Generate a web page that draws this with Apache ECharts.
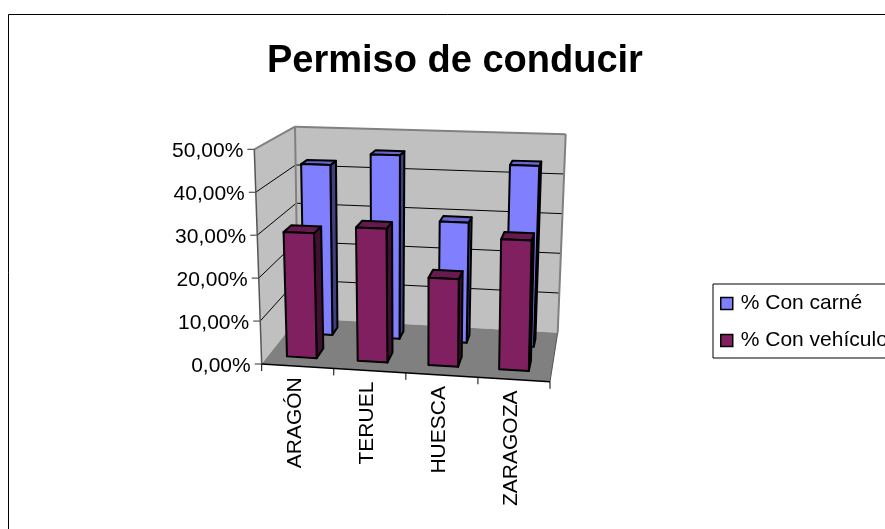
<!DOCTYPE html>
<html>
<head>
<meta charset="utf-8">
<title>Permiso de conducir</title>
<script src="https://cdn.jsdelivr.net/npm/echarts@6/dist/echarts.min.js"></script>
<style>
  html, body { margin: 0; padding: 0; background: #fff; }
  #chart { width: 885px; height: 529px; }
</style>
</head>
<body>
<div id="chart"></div>
<script>
const categories = ['ARAGÓN', 'TERUEL', 'HUESCA', 'ZARAGOZA']
const conCarne = [42.5, 45.5, 29.5, 44]
const conVehiculo = [29.5, 31.3, 20.3, 30]
const yTicks = [0, 10, 20, 30, 40, 50]
const yTickLabels = ['0,00%', '10,00%', '20,00%', '30,00%', '40,00%', '50,00%']

const FONT = '"Liberation Sans", Arial, sans-serif'
const LABEL_FONT = '21px ' + FONT

// corners of the 3d box as seen on screen: front/back, left/right, bottom/top
const BOX = {
  flb: [261.7, 364], frb: [550, 381.7], blb: [298, 318], brb: [557.7, 332.7],
  flt: [254.3, 149.3], frt: [555, 159], blt: [295, 126.7], brt: [565.7, 134.3]
}

function mix(a, b, t) {
  return [a[0] + (b[0] - a[0]) * t, a[1] + (b[1] - a[1]) * t]
}

// u along the categories, v into the depth, w up the value axis (all 0..1)
function box3d(u, v, w) {
  const bottom = mix(mix(BOX.flb, BOX.frb, u), mix(BOX.blb, BOX.brb, u), v)
  const top = mix(mix(BOX.flt, BOX.frt, u), mix(BOX.blt, BOX.brt, u), v)
  return mix(bottom, top, w)
}

// turn a pixel of the (hidden) grid into a point of the box
function project(cs, pt, v) {
  const u = (pt[0] - cs.x) / cs.width
  const w = (cs.y + cs.height - pt[1]) / cs.height
  return box3d(u, v, w)
}

function poly(points, fill, stroke, lineWidth) {
  return {
    type: 'polygon',
    shape: { points: points },
    style: { fill: fill, stroke: stroke || 'none', lineWidth: lineWidth || 0, lineJoin: 'round' }
  }
}

function line(a, b, color, lineWidth) {
  return {
    type: 'line',
    shape: { x1: a[0], y1: a[1], x2: b[0], y2: b[1] },
    style: { stroke: color, lineWidth: lineWidth || 1, fill: null }
  }
}

function label(text, x, y, rotation) {
  return {
    type: 'text',
    x: x,
    y: y,
    rotation: rotation,
    style: {
      text: text, x: 0, y: 0, font: LABEL_FONT, fill: '#000',
      align: 'right', textAlign: 'right', verticalAlign: 'middle', textVerticalAlign: 'middle'
    }
  }
}

function renderBox(params, api) {
  const cs = params.coordSys
  const children = [
    poly([BOX.blb, BOX.brb, BOX.brt, BOX.blt], '#c0c0c0'),
    poly([BOX.flb, BOX.blb, BOX.blt, BOX.flt], '#c0c0c0')
  ]
  yTicks.forEach((t, i) => {
    const y = api.coord([0, t])[1]
    const front = project(cs, [cs.x, y], 0)
    const back = project(cs, [cs.x, y], 1)
    const right = project(cs, [cs.x + cs.width, y], 1)
    if (t > 0 && t < 50) {
      children.push(line(front, back, '#000', 1))
      children.push(line(back, right, '#000', 1))
    }
    children.push(line([front[0] - 7, front[1]], front, '#333', 1))
    children.push(label(yTickLabels[i], front[0] - 11, front[1] + 2, 0))
  })
  children.push(poly([BOX.flb, BOX.frb, BOX.brb, BOX.blb], '#808080'))
  children.push(line(BOX.flt, BOX.blt, '#808080', 2))
  children.push(line(BOX.blt, BOX.brt, '#808080', 2))
  children.push(line(BOX.brt, BOX.brb, '#808080', 2))
  children.push(line(BOX.blt, BOX.blb, '#808080', 2))
  children.push(line(BOX.flt, BOX.flb, '#555', 1.5))
  children.push(line(BOX.brb, BOX.frb, '#555', 1))
  children.push(line(BOX.flb, BOX.frb, '#000', 1.5))
  categories.forEach((name, i) => {
    const left = box3d(i / categories.length, 0, 0)
    children.push(line(left, [left[0], left[1] + 7], '#000', 1))
    const mid = project(cs, [api.coord([i, 0])[0], cs.y + cs.height], 0)
    children.push(label(name, mid[0] - 3, mid[1] + 11, Math.PI / 2))
  })
  const last = box3d(1, 0, 0)
  children.push(line(last, [last[0], last[1] + 7], '#000', 1))
  return { type: 'group', children: children }
}

function barRenderer(v0, v1, front, top, side) {
  return function (params, api) {
    const cs = params.coordSys
    const base = api.coord([api.value(0), 0])
    const head = api.coord([api.value(0), api.value(1)])
    const band = api.size([1, 0])[0]
    const x0 = base[0] - band * 0.24
    const x1 = base[0] + band * 0.18
    const p = (x, y, v) => project(cs, [x, y], v)
    const stroke = '#000'
    return {
      type: 'group',
      children: [
        poly([p(x1, base[1], v0), p(x1, base[1], v1), p(x1, head[1], v1), p(x1, head[1], v0)], side, stroke, 2),
        poly([p(x0, head[1], v0), p(x1, head[1], v0), p(x1, head[1], v1), p(x0, head[1], v1)], top, stroke, 2),
        poly([p(x0, base[1], v0), p(x1, base[1], v0), p(x1, head[1], v0), p(x0, head[1], v0)], front, stroke, 2)
      ]
    }
  }
}

const myChart = echarts.init(document.getElementById('chart'))
myChart.setOption({
  animation: false,
  backgroundColor: '#fff',
  title: {
    text: 'Permiso de conducir',
    left: 267,
    top: 43,
    padding: 0,
    textStyle: { fontFamily: FONT, fontWeight: 'bold', fontSize: 38, color: '#000' }
  },
  legend: {
    orient: 'vertical',
    left: 713,
    top: 284,
    padding: [9, 7, 7, 7],
    itemWidth: 12,
    itemHeight: 12,
    itemGap: 16,
    borderColor: '#000',
    borderWidth: 1,
    backgroundColor: '#fff',
    icon: 'rect',
    data: ['% Con carné', '% Con vehículo'],
    itemStyle: { borderColor: '#000', borderWidth: 1.5 },
    textStyle: { fontFamily: FONT, fontSize: 21, color: '#000', padding: [0, 0, 0, 3] }
  },
  graphic: [{
    type: 'rect',
    z: -10,
    silent: true,
    shape: { x: 8.5, y: 14.5, width: 900, height: 600 },
    style: { fill: 'none', stroke: '#000', lineWidth: 1 }
  }],
  grid: { left: 262, top: 150, width: 288, height: 214 },
  xAxis: { type: 'category', data: categories, show: false },
  yAxis: { type: 'value', min: 0, max: 50, interval: 10, show: false },
  series: [
    {
      type: 'custom',
      name: 'caja',
      silent: true,
      renderItem: renderBox,
      data: [[0, 0]],
      z: 1
    },
    {
      type: 'custom',
      name: '% Con carné',
      silent: true,
      itemStyle: { color: '#8080ff' },
      renderItem: barRenderer(0.69, 0.85, '#8080ff', '#6666cc', '#404080'),
      data: categories.map((c, i) => [i, conCarne[i]]),
      z: 2
    },
    {
      type: 'custom',
      name: '% Con vehículo',
      silent: true,
      itemStyle: { color: '#802060' },
      renderItem: barRenderer(0.19, 0.4, '#802060', '#661a4d', '#401030'),
      data: categories.map((c, i) => [i, conVehiculo[i]]),
      z: 3
    }
  ]
})
</script>
</body>
</html>
